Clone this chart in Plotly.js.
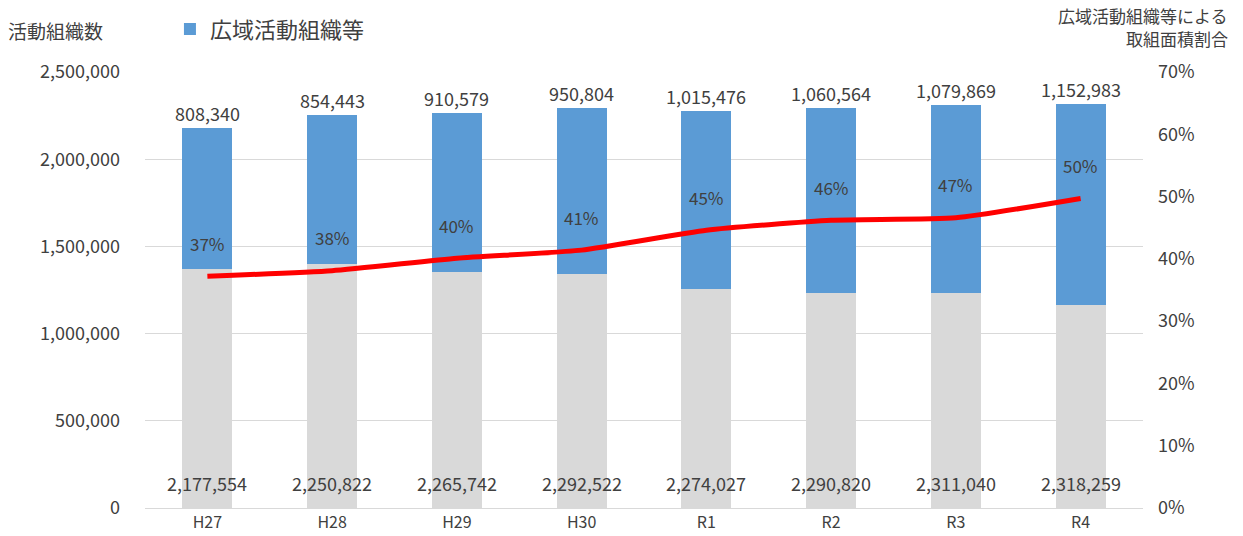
<!DOCTYPE html>
<html><head><meta charset="utf-8">
<script src="https://cdn.plot.ly/plotly-3.0.1.min.js"></script>
<style>html,body{margin:0;padding:0;background:#fff}</style>
</head><body>
<div id="chart" style="width:1243px;height:536px"></div>
<script>
const categories = ["H27","H28","H29","H30","R1","R2","R3","R4"];
const totalOrgs = [2177554,2250822,2265742,2292522,2274027,2290820,2311040,2318259];
const wideAreaOrgs = [808340,854443,910579,950804,1015476,1060564,1079869,1152983];
const areaShare = [0.372,0.381,0.401,0.414,0.446,0.462,0.466,0.497];
const shareLabels = ["37%","38%","40%","41%","45%","46%","47%","50%"];
const rightTitleLines = ["広域活動組織等による","取組面積割合"];

const otherOrgs = totalOrgs.map((t,i)=>t-wideAreaOrgs[i]);
const fmt = v => v.toLocaleString("en-US");
const FONT = "Noto Sans CJK JP, Noto Sans, sans-serif";
const TXT = "#404040";

const traces = [
  {type:"bar", x:categories, y:otherOrgs, marker:{color:"#D9D9D9"}, showlegend:false, hoverinfo:"skip", width:0.4},
  {type:"bar", x:categories, y:wideAreaOrgs, name:"広域活動組織等", marker:{color:"#5B9BD5"}, width:0.4},
  {type:"scatter", mode:"lines", x:categories, y:areaShare, yaxis:"y2", line:{color:"#FF0000", width:5, shape:"spline", smoothing:0.5}, showlegend:false}
];

const ann = [];
categories.forEach((c,i)=>{
  ann.push({x:c, y:totalOrgs[i], xref:"x", yref:"y", text:fmt(wideAreaOrgs[i]), showarrow:false, yanchor:"bottom", yshift:0, font:{size:18, color:TXT, family:FONT}});
  ann.push({x:c, y:0, xref:"x", yref:"y", text:fmt(totalOrgs[i]), showarrow:false, yanchor:"middle", yshift:25, font:{size:18, color:TXT, family:FONT}});
  ann.push({x:c, y:areaShare[i], xref:"x", yref:"y2", text:shareLabels[i], showarrow:false, yanchor:"middle", yshift:33, font:{size:17, color:TXT, family:FONT}});
});
ann.push({xref:"paper", yref:"paper", x:-0.139, y:1.0, xanchor:"left", yanchor:"middle", yshift:42, text:"活動組織数", showarrow:false, font:{size:19, color:TXT, family:FONT}});
rightTitleLines.forEach((t,k)=>{
  ann.push({xref:"paper", yref:"paper", x:1.087, y:1.0, xanchor:"right", yanchor:"middle", yshift:57-23*k, text:t, showarrow:false, font:{size:17, color:TXT, family:FONT}});
});

const layout = {
  width:1243, height:536,
  margin:{l:145, r:100, t:72, b:28, autoexpand:false},
  barmode:"stack",
  paper_bgcolor:"#fff", plot_bgcolor:"#fff",
  font:{family:FONT, color:TXT},
  xaxis:{tickfont:{size:16, color:TXT, family:FONT}, showline:true, linecolor:"#D9D9D9", linewidth:1, ticks:"", showgrid:false},
  yaxis:{range:[0,2500000], dtick:500000, tickformat:",d", gridcolor:"#D9D9D9", gridwidth:1, zeroline:false, tickfont:{size:18, color:TXT, family:FONT}, ticklabelstandoff:24},
  yaxis2:{range:[0,0.7], dtick:0.1, tickformat:".0%", overlaying:"y", side:"right", showgrid:false, zeroline:false, tickfont:{size:18, color:TXT, family:FONT}, ticklabelstandoff:14},
  legend:{orientation:"h", x:0.025, y:1.05, xanchor:"left", yanchor:"bottom", font:{size:22, color:TXT, family:FONT}, bgcolor:"rgba(0,0,0,0)"},
  annotations:ann
};
Plotly.newPlot("chart", traces, layout, {staticPlot:true, displayModeBar:false});
</script>
</body></html>
